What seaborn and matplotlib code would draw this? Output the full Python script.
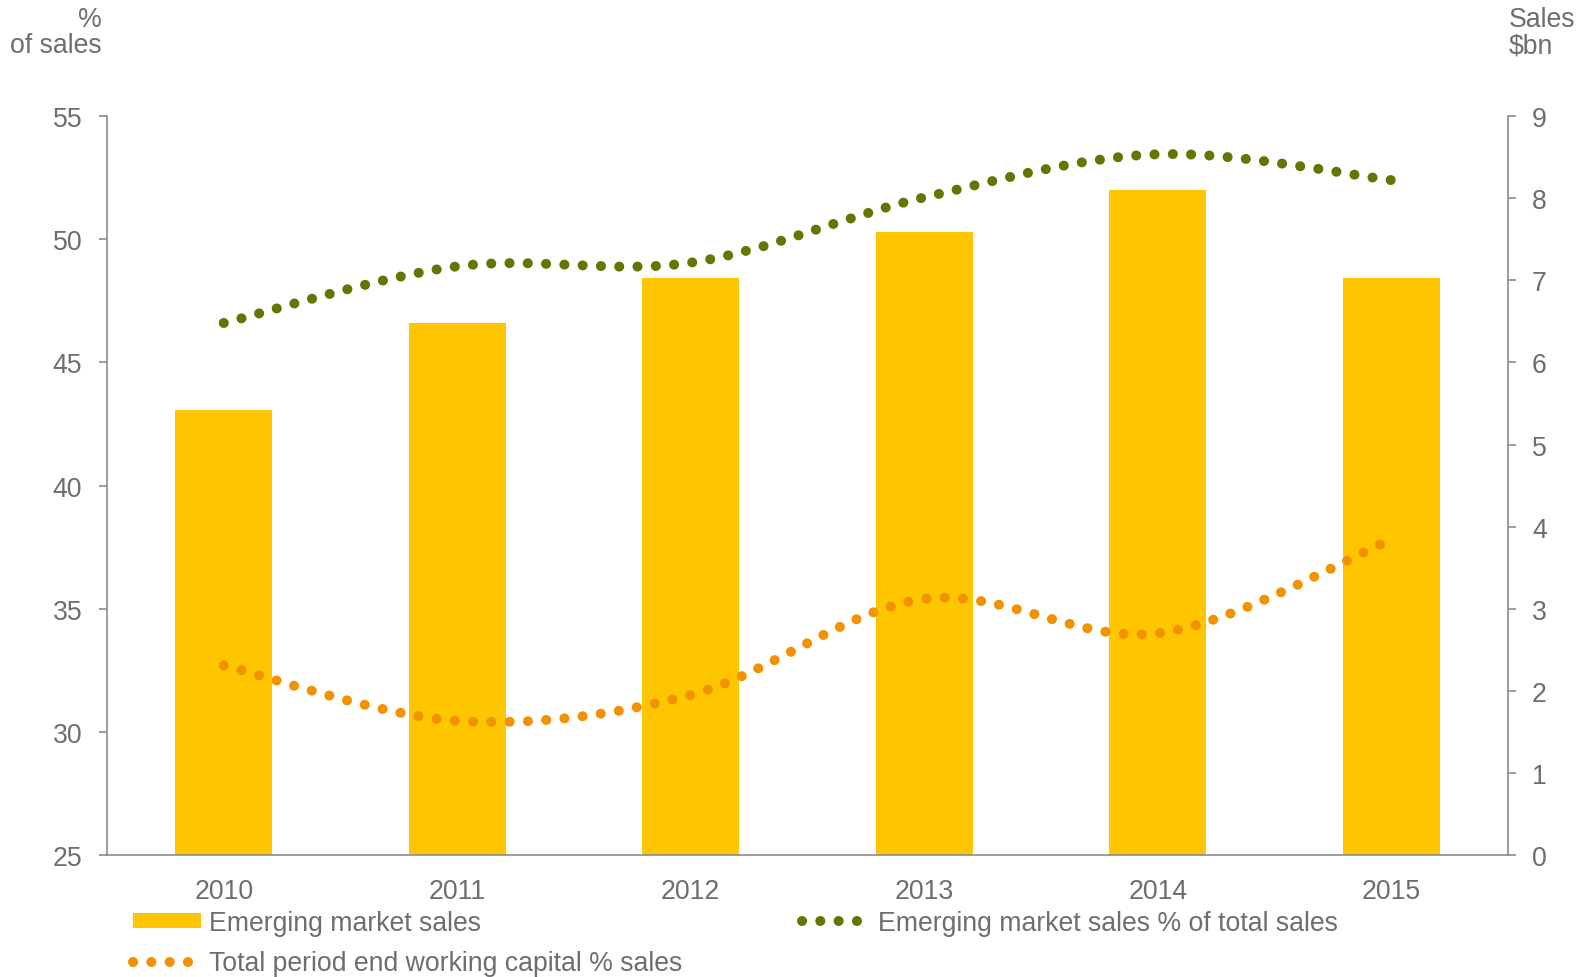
"""
Emerging market sales vs working capital chart
"""

import numpy as np
import pandas as pd
import matplotlib
matplotlib.use("Agg")
import matplotlib.pyplot as plt
from matplotlib.path import Path
from matplotlib.patches import PathPatch, Patch
from matplotlib.lines import Line2D
import seaborn as sns

# Data
years = ["2010", "2011", "2012", "2013", "2014", "2015"]
em_sales_bn = [5.42, 6.48, 7.03, 7.59, 8.10, 7.03]
em_share_pct = [46.6, 48.9, 49.05, 51.7, 53.45, 52.4]
working_cap_pct = [32.7, 30.45, 31.5, 35.4, 34.0, 37.8]

# Colours
BAR_COLOR = "#FFC600"
GREEN = "#5F7800"
ORANGE = "#F39200"
TEXT = "#6D6E71"
SPINE = "#8C8C8C"

sns.set_style("white")
plt.rcParams["font.family"] = ["Liberation Sans", "DejaVu Sans"]
plt.rcParams["font.size"] = 19.2


def smooth_path(xs, ys):
    """Excel-style smoothed line as cubic bezier segments (Catmull-Rom)."""
    pts = np.column_stack([xs, ys]).astype(float)
    ext = np.vstack([pts[0], pts, pts[-1]])
    verts = [tuple(pts[0])]
    codes = [Path.MOVETO]
    for i in range(1, len(ext) - 2):
        p0, p1, p2, p3 = ext[i - 1], ext[i], ext[i + 1], ext[i + 2]
        c1 = p1 + (p2 - p0) / 6.0
        c2 = p2 - (p3 - p1) / 6.0
        verts += [tuple(c1), tuple(c2), tuple(p2)]
        codes += [Path.CURVE4] * 3
    return Path(verts, codes)


DOT_LW = 7.2
DOTS = (0, (0.01, 1.82))

fig = plt.figure(figsize=(15.85, 9.78), dpi=100)
ax = fig.add_axes([0.0675, 0.1247, 0.8839, 0.7556])
ax2 = ax.twinx()

# Bars on the right axis
df = pd.DataFrame({"year": years, "sales": em_sales_bn})
sns.barplot(data=df, x="year", y="sales", ax=ax2, color=BAR_COLOR,
            width=0.415, saturation=1, edgecolor="none")
ax2.set_ylim(0, 9)
ax2.set_yticks(range(0, 10))
ax2.set_xlabel("")
ax2.set_ylabel("")

# Lines on the left axis, drawn above the bars
ax.set_zorder(ax2.get_zorder() + 1)
ax.patch.set_visible(False)
xpos = np.arange(len(years))
for vals, col in [(em_share_pct, GREEN), (working_cap_pct, ORANGE)]:
    patch = PathPatch(smooth_path(xpos, vals), fill=False, edgecolor=col,
                      linewidth=DOT_LW, linestyle=DOTS, capstyle="round")
    ax.add_patch(patch)
ax.set_ylim(25, 55)
ax.set_yticks(range(25, 60, 5))
ax.set_xlim(-0.5, 5.5)
ax.set_xticks(xpos)
ax.set_xticklabels(years)
ax2.set_xlim(-0.5, 5.5)

# Styling
for a in (ax, ax2):
    a.spines["top"].set_visible(False)
    for side in ("left", "right", "bottom"):
        a.spines[side].set_color(SPINE)
        a.spines[side].set_linewidth(1.2)
ax.spines["right"].set_visible(False)
ax2.spines["left"].set_visible(False)
ax2.spines["bottom"].set_visible(False)

ax.tick_params(axis="y", colors=SPINE, labelcolor=TEXT, length=5.8, width=1.2,
               direction="out", pad=12)
ax.tick_params(axis="x", length=0, pad=16.5, labelcolor=TEXT)
ax2.tick_params(axis="y", colors=SPINE, labelcolor=TEXT, length=5.8, width=1.2,
                direction="out", pad=11.5)
ax2.tick_params(axis="x", length=0, labelbottom=False)

# Axis titles
fig.text(102 / 1585, 1 - 7 / 978, "%\nof sales", ha="right", va="top",
         color=TEXT, linespacing=1.02, multialignment="right")
fig.text(1509 / 1585, 1 - 7 / 978, "Sales\n$bn", ha="left", va="top",
         color=TEXT, linespacing=1.02)

# Legend
handles = [
    Patch(facecolor=BAR_COLOR, edgecolor="none"),
    Line2D([0], [0], color=ORANGE, linewidth=DOT_LW, linestyle=DOTS,
           dash_capstyle="round"),
    Line2D([0], [0], color=GREEN, linewidth=DOT_LW, linestyle=DOTS,
           dash_capstyle="round"),
]
labels = ["Emerging market sales",
          "Total period end working capital % sales",
          "Emerging market sales % of total sales"]
leg = fig.legend(handles, labels, loc="lower left", ncol=2,
                 bbox_to_anchor=(0.0685, -0.024), frameon=False,
                 handlelength=2.55, handleheight=0.5, handletextpad=0.3,
                 columnspacing=4.5, labelspacing=0.55)
for t in leg.get_texts():
    t.set_color(TEXT)

plt.savefig("out.png", dpi=100)
